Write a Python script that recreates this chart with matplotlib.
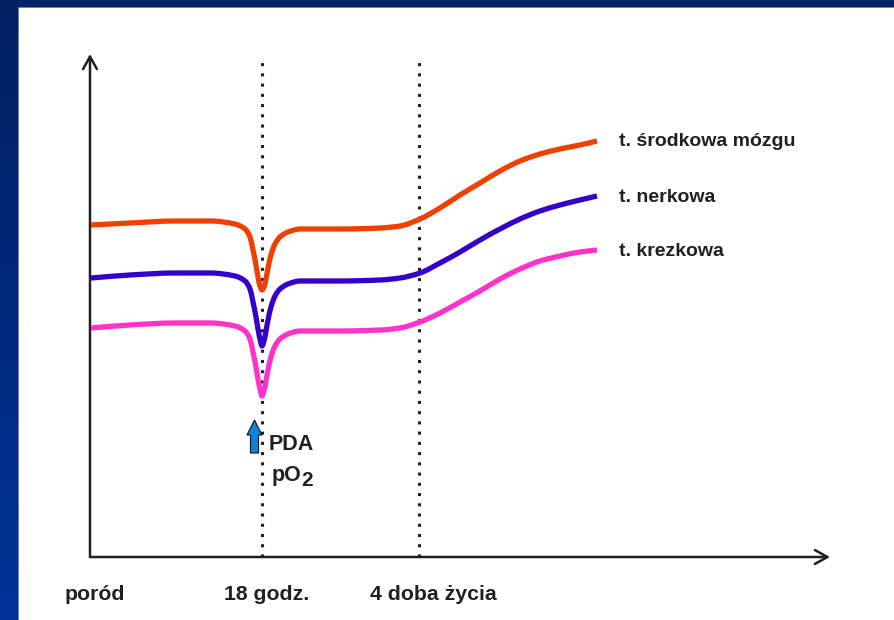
import numpy as np
import matplotlib
matplotlib.use("Agg")
import matplotlib.pyplot as plt
from matplotlib.patches import FancyArrow, PathPatch
from matplotlib.path import Path
from matplotlib.colors import LinearSegmentedColormap

plt.rcParams['font.family'] = ['Liberation Sans', 'DejaVu Sans']

# ---- data (arbitrary units: time along x, level along y) ----
x = [1, 40, 85, 120, 145, 155, 160, 163, 166, 168, 170, 172, 174, 176, 178, 181,
     185, 190, 198, 210, 250, 290, 310, 330, 350, 370, 390, 410, 430, 450, 470, 490, 507]
y_mozg = [332, 334, 336, 336, 333, 328, 320, 307, 292, 280, 271, 267, 270, 278, 289, 302,
          313, 320, 325, 328, 328, 329, 331, 338, 349, 362, 374, 386, 396, 403, 408, 412, 416]
y_nerk = [279, 282, 284, 284, 281, 276, 268, 255, 240, 228, 218, 211, 216, 226, 237, 250,
          261, 268, 273, 276, 276, 277, 279, 284, 294, 305, 317, 328, 338, 346, 352, 357, 361]
y_krez = [229, 232, 234, 234, 231, 226, 218, 205, 190, 178, 168, 161, 166, 176, 187, 200,
          211, 218, 223, 226, 226, 227, 229, 235, 244, 255, 266, 278, 288, 296, 301, 305, 307]

series_names = ["t. środkowa mózgu", "t. nerkowa", "t. krezkowa"]
series_vals = [y_mozg, y_nerk, y_krez]
series_cols = ["#F04000", "#3300CC", "#FF33CC"]

event_x = [172, 329]
tick_labels = ["poród", "18 godz.", "4 doba życia"]


def smooth_path(xs, ys):
    """Bezier path through the given points (monotone cubic Hermite tangents)."""
    xs = np.asarray(xs, float); ys = np.asarray(ys, float)
    h = np.diff(xs); d = np.diff(ys) / h
    n = len(xs)
    m = np.zeros(n)
    m[0], m[-1] = d[0], d[-1]
    for i in range(1, n - 1):
        if d[i - 1] * d[i] <= 0:
            m[i] = 0.0
        else:
            w1 = 2 * h[i] + h[i - 1]; w2 = h[i] + 2 * h[i - 1]
            m[i] = (w1 + w2) / (w1 / d[i - 1] + w2 / d[i])
    verts = [(xs[0], ys[0])]; codes = [Path.MOVETO]
    for i in range(n - 1):
        dx = h[i] / 3
        verts += [(xs[i] + dx, ys[i] + m[i] * dx), (xs[i + 1] - dx, ys[i + 1] - m[i + 1] * dx),
                  (xs[i + 1], ys[i + 1])]
        codes += [Path.CURVE4] * 3
    return Path(verts, codes)


# ---- figure ----
W, H = 894, 620
fig = plt.figure(figsize=(W / 100, H / 100), dpi=100)
fig.patch.set_facecolor("#002266")

bg = fig.add_axes([18 / W, 0, 1 - 18 / W, (H - 7) / H], zorder=-5)
bg.set_facecolor("white")
bg.set_xticks([]); bg.set_yticks([])
for side, sp in bg.spines.items():
    sp.set_visible(side in ("left", "top"))
    sp.set_color("#666666"); sp.set_linewidth(0.6)

gax = fig.add_axes([0, 0, 18 / W, 1], zorder=-5)
grad = np.linspace(0, 1, 256).reshape(-1, 1)
cm = LinearSegmentedColormap.from_list("g", ["#003399", "#002060"])
gax.imshow(grad, aspect="auto", cmap=cm, origin="lower", extent=[0, 1, 0, 1])
gax.axis("off")

ax = fig.add_axes([90 / W, 63 / H, 740 / W, 502 / H], zorder=2)
ax.set_xlim(0, 740)
ax.set_ylim(0, 502)
ax.axis("off")

axis_col = "#231F20"
arrowprops = dict(arrowstyle="->,head_length=0.45,head_width=0.25", lw=1.8, color=axis_col,
                  shrinkA=0, shrinkB=0, mutation_scale=20)
ax.annotate("", xy=(0, 503), xytext=(0, 0), arrowprops=arrowprops, annotation_clip=False)
ax.annotate("", xy=(740, 0), xytext=(0, 0), arrowprops=arrowprops, annotation_clip=False)

for ex in event_x:
    ax.plot([ex, ex], [0, 495], color=axis_col, lw=2.2, linestyle=(0, (1, 2.35)),
            dash_capstyle="butt", clip_on=False)

for name, vals, col in zip(series_names, series_vals, series_cols):
    ax.add_patch(PathPatch(smooth_path(x, vals), facecolor="none", edgecolor=col, lw=3.8,
                           joinstyle="round", capstyle="butt", zorder=3))
    ax.text(529, vals[-1] - 1, name, fontsize=14, fontweight="bold", color="#231F20",
            va="center", ha="left")

tick_text_x = [-25, 134, 280]
for tx, lab in zip(tick_text_x, tick_labels):
    ax.text(tx, -37, lab, fontsize=15.3, fontweight="bold", color="#231F20",
            va="center", ha="left")

# PDA arrow and labels
ax.add_patch(FancyArrow(164.5, 104, 0, 33, width=8, head_width=15, head_length=15,
                        length_includes_head=True, facecolor="#0A84DC", edgecolor="#111111",
                        lw=0.8, zorder=4))
ax.text(179, 113, "PDA", fontsize=15.5, fontweight="bold", color="#231F20", va="center", ha="left")
ax.text(182, 82, "pO", fontsize=15.5, fontweight="bold", color="#231F20", va="center", ha="left")
ax.text(211, 77, "2", fontsize=15, fontweight="bold", color="#231F20", va="center", ha="left")

fig.savefig("out.png", dpi=100)
